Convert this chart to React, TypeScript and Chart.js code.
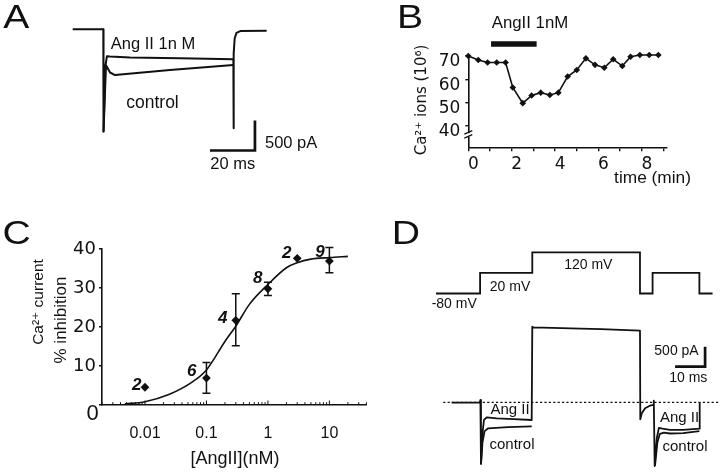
import React, { useEffect, useRef } from 'react';
import { Chart, registerables } from 'chart.js';

Chart.register(...registerables);

const INK = '#111111';
const SANS = '"Liberation Sans", Arial, Helvetica, "DejaVu Sans", sans-serif';
const WIDE = '"DejaVu Sans", "Liberation Sans", sans-serif';
const W = 720;
const H = 474;

// ---------- Panel A : Ca2+ current traces (ms, pA) ----------
const aTime = [0, 13.6, 13.7, 14.5, 15.2, 16.6, 25.5, 47.7, 71.4, 71.5, 71.6, 72.0, 72.8, 74.5, 86.2];
const aAngII = [0, 0, -1707, -620, -450, -455, -470, -483, -500, -1650, -400, -150, -60, -30, -24];
const aCtrlTime = [13.7, 14.8, 16.6, 18.8, 43.2, 71.4];
const aCtrl = [-1707, -600, -720, -762, -678, -595];
const aBarTime = [61, 81, 81];
const aBarCurrent = [-2020, -2020, -1520];

// ---------- Panel B : Ca2+ ions vs time ----------
const bTime = [0, 0.46, 0.89, 1.31, 1.72, 2.05, 2.51, 2.92, 3.34, 3.76, 4.15, 4.58, 5.0, 5.42, 5.84, 6.27, 6.68, 7.1, 7.48, 7.91, 8.34, 8.76];
const bIons = [70, 68.3, 67.2, 67.2, 67.2, 56.5, 49.8, 53.1, 54.3, 53.3, 54.3, 61.2, 64, 69, 66.2, 65, 68.6, 65.7, 69.7, 70.4, 70.4, 70.4];
const bDrugTime = [1.05, 3.15];
const bDrugLevel = 75.1;
const bYTicks = [40, 50, 60, 70];
const bXLabelled = [0, 2, 4, 6, 8];
const bBreakAt = 36.1;

// ---------- Panel C : dose-response ----------
const cConc = [0.01, 0.1, 0.3, 1, 3, 10];
const cInhib = [4.55, 6.9, 21.7, 29.8, 37.6, 36.9];
const cErrHigh: (number | null)[] = [null, 10.9, 28.5, 31.5, null, 40.4];
const cErrLow: (number | null)[] = [null, 3.0, 15.2, 28.1, null, 33.9];
const cN = ['2', '6', '4', '8', '2', '9'];
const cFitConc = [0.0047, 0.01, 0.025, 0.06, 0.1, 0.2, 0.3, 0.5, 1, 2, 3, 5, 10, 20];
const cFitInhib = [0.26, 0.85, 2.76, 6.0, 9.0, 16.3, 20.2, 25.8, 30.9, 35.2, 36.5, 37.4, 37.8, 38.1];
const cXLabelled = [0.01, 0.1, 1, 10];
const cYTicks = [0, 10, 20, 30, 40];

// ---------- Panel D : protocol and currents (ms, mV, pA) ----------
const dProtoTime = [0, 14.7, 14.7, 32.1, 32.1, 68, 68, 72.2, 72.2, 87.8, 87.8, 92.2];
const dProtoMv = [-80, -80, 20, 20, 120, 120, -80, -80, 20, 20, -80, -80];
const dAngTime = [5.2, 14.6, 14.8, 15.0, 15.6, 16.0, 16.9, 20.2, 26, 31.9, 32.1, 32.4, 45, 55, 68, 68.1, 68.6, 69.7, 71.3, 72.4, 72.6, 72.9, 73.6, 74.3, 75.5, 78, 82.4, 87.8, 87.9];
const dAngII = [-10, -10, 57, -1542, -700, -442, -375, -400, -420, -442, 1890, 1875, 1850, 1830, 1790, -425, -275, -150, -85, -67, 40, -1592, -900, -640, -660, -690, -690, -660, 0];
const dCtrlTime = [15.0, 15.5, 16.2, 17.4, 24, 31.9, 50, 73.0, 73.8, 74.6, 76, 78, 82.4, 87.8];
const dCtrl: (number | null)[] = [-1542, -1000, -720, -650, -620, -600, null, -1592, -1000, -790, -760, -780, -770, -720];
const dZeroTime = [2.4, 94.1];
const dZero = [0, 0];
const dBarTime = [79.7, 89.7, 89.7];
const dBarCurrent = [890, 890, 1390];

// ---------- text annotations ----------
type Label = {
  text: string; x: number; y: number; size: number; family?: string;
  align?: CanvasTextAlign; weight?: string; italic?: boolean; rotate?: number; sx?: number;
};

const aLabels: Label[] = [
  { text: 'A', x: 16.3, y: 18.5, size: 34, sx: 1.15 },
  { text: 'Ang II 1n M', x: 153, y: 44, size: 16.5 },
  { text: 'control', x: 152.5, y: 102.7, size: 17.5 },
  { text: '20 ms', x: 232.7, y: 164.3, size: 16.5 },
  { text: '500 pA', x: 265, y: 143.5, size: 16.5, align: 'left' },
];
const bLabels: Label[] = [
  { text: 'B', x: 410, y: 18.7, size: 34, sx: 1.15 },
  { text: 'AngII 1nM', x: 530, y: 23.5, size: 16.8 },
  { text: 'time (min)', x: 652.5, y: 178, size: 17.3 },
  { text: 'Ca\u00B2\u207A ions (10\u2076)', x: 422.5, y: 100, size: 15, family: WIDE, rotate: -Math.PI / 2 },
];
const cLabels: Label[] = [
  { text: 'C', x: 16.7, y: 234.2, size: 34, sx: 1.15 },
  { text: 'Ca\u00B2\u207A current', x: 38.5, y: 302, size: 15.5, rotate: -Math.PI / 2 },
  { text: '% inhibition', x: 61, y: 320, size: 17, rotate: -Math.PI / 2 },
  { text: '[AngII](nM)', x: 235, y: 459, size: 18 },
  { text: '0', x: 92.5, y: 414, size: 22 },
  { text: cN[0], x: 136.7, y: 385, size: 17, weight: 'bold', italic: true },
  { text: cN[1], x: 191.7, y: 371.7, size: 17, weight: 'bold', italic: true },
  { text: cN[2], x: 222.7, y: 318.3, size: 17, weight: 'bold', italic: true },
  { text: cN[3], x: 257.7, y: 278.3, size: 17, weight: 'bold', italic: true },
  { text: cN[4], x: 286.7, y: 253.3, size: 17, weight: 'bold', italic: true },
  { text: cN[5], x: 320, y: 252.7, size: 17, weight: 'bold', italic: true },
];
const dLabels: Label[] = [
  { text: 'D', x: 405.8, y: 235, size: 34, sx: 1.15 },
  { text: '-80 mV', x: 454.2, y: 304, size: 14 },
  { text: '20 mV', x: 510, y: 286.7, size: 14 },
  { text: '120 mV', x: 588.3, y: 264.7, size: 14 },
  { text: '500 pA', x: 676.5, y: 351, size: 14 },
  { text: '10 ms', x: 688.3, y: 378, size: 14 },
  { text: 'Ang II', x: 510, y: 410, size: 15 },
  { text: 'control', x: 512, y: 445.3, size: 15 },
  { text: 'Ang II', x: 679.5, y: 418, size: 15 },
  { text: 'control', x: 685, y: 446.7, size: 15 },
];

const pts = (xs: number[], ys: (number | null)[]) => xs.map((x, i) => ({ x, y: ys[i] }));

function drawLabels(ctx: CanvasRenderingContext2D, items: Label[]) {
  for (const it of items) {
    ctx.save();
    ctx.fillStyle = INK;
    ctx.font = `${it.italic ? 'italic ' : ''}${it.weight ?? 'normal'} ${it.size}px ${it.family ?? SANS}`;
    ctx.textAlign = it.align ?? 'center';
    ctx.textBaseline = 'middle';
    ctx.translate(it.x, it.y);
    if (it.rotate) ctx.rotate(it.rotate);
    if (it.sx) ctx.scale(it.sx, 1);
    ctx.fillText(it.text, 0, 0);
    ctx.restore();
  }
}

const labelPlugin = (id: string, items: Label[]) => ({
  id,
  afterDraw(chart: Chart) {
    drawLabels(chart.ctx, items);
  },
});

const trace = (data: any[], width: number, extra: any = {}) => ({
  data,
  borderColor: INK,
  backgroundColor: INK,
  borderWidth: width,
  pointRadius: 0,
  borderJoinStyle: 'round',
  borderCapStyle: 'butt',
  fill: false,
  ...extra,
});

const baseOptions = {
  responsive: false,
  animation: false as const,
  events: [] as any[],
  plugins: { legend: { display: false }, tooltip: { enabled: false } },
};

function makeA(canvas: HTMLCanvasElement) {
  return new Chart(canvas, {
    type: 'line',
    data: {
      datasets: [
        trace(pts(aTime, aAngII), 2),
        trace(pts(aCtrlTime, aCtrl), 2),
        trace(pts(aBarTime, aBarCurrent), 2.7, { borderJoinStyle: 'miter' }),
      ] as any,
    },
    options: {
      ...baseOptions,
      layout: { padding: 0 },
      scales: {
        x: { type: 'linear', display: false, min: -32.31, max: 287.69 },
        y: { type: 'linear', display: false, min: -7411.7, max: 488.3 },
      },
    } as any,
    plugins: [labelPlugin('aLabels', aLabels)],
  });
}

function makeB(canvas: HTMLCanvasElement) {
  const breakPlugin = {
    id: 'bBreak',
    afterDraw(chart: any) {
      const ctx = chart.ctx as CanvasRenderingContext2D;
      const x0 = chart.chartArea.left;
      const py = chart.scales.y.getPixelForValue(bBreakAt);
      ctx.save();
      ctx.fillStyle = '#ffffff';
      ctx.fillRect(x0 - 2, py - 2, 4, 3.5);
      ctx.strokeStyle = INK;
      ctx.lineWidth = 1.2;
      ctx.beginPath();
      ctx.moveTo(x0 - 4, py - 1);
      ctx.lineTo(x0 + 4, py - 4.5);
      ctx.moveTo(x0 - 4, py + 3);
      ctx.lineTo(x0 + 4, py - 0.5);
      ctx.stroke();
      ctx.restore();
    },
  };
  return new Chart(canvas, {
    type: 'line',
    data: {
      datasets: [
        trace(pts(bTime, bIons), 1.6, {
          pointRadius: 3.3,
          pointStyle: 'rectRot',
          pointBorderWidth: 0,
          pointBackgroundColor: INK,
          clip: false,
          borderJoinStyle: 'miter',
        }),
        trace(pts(bDrugTime, [bDrugLevel, bDrugLevel]), 5.5, { clip: false }),
      ] as any,
    },
    options: {
      ...baseOptions,
      layout: { padding: { left: 428.3, right: 53, top: 56, bottom: 286.7 } },
      scales: {
        x: {
          type: 'linear',
          min: 0,
          max: 9.16,
          afterFit: (s: any) => { s.height = 40; },
          border: { display: true, color: INK, width: 1.6 },
          grid: { display: true, drawOnChartArea: false, drawTicks: true, tickLength: 4, color: INK, lineWidth: 1.4 },
          ticks: {
            stepSize: 1,
            includeBounds: false,
            autoSkip: false,
            maxRotation: 0,
            padding: 3.5,
            labelOffset: 5,
            color: INK,
            font: { family: WIDE, size: 17 },
            callback: (v: any) => (bXLabelled.includes(Number(v)) ? String(v) : ''),
          },
        },
        y: {
          type: 'linear',
          min: 30.9,
          max: 70,
          afterFit: (s: any) => { s.width = 40; },
          afterBuildTicks: (s: any) => { s.ticks = bYTicks.map((value) => ({ value })); },
          border: { display: true, color: INK, width: 1.6 },
          grid: { display: true, drawOnChartArea: false, drawTicks: true, tickLength: 3, color: INK, lineWidth: 1.4 },
          ticks: {
            padding: 5,
            labelOffset: 6,
            color: INK,
            font: { family: WIDE, size: 17 },
            callback: (v: any) => String(v),
          },
        },
      },
    } as any,
    plugins: [breakPlugin, labelPlugin('bLabels', bLabels)],
  });
}

function makeC(canvas: HTMLCanvasElement) {
  const errPlugin = {
    id: 'cErr',
    afterDatasetsDraw(chart: any) {
      const ctx = chart.ctx as CanvasRenderingContext2D;
      const { x, y } = chart.scales;
      ctx.save();
      ctx.strokeStyle = INK;
      ctx.lineWidth = 1.5;
      ctx.beginPath();
      cConc.forEach((c, i) => {
        const hi = cErrHigh[i];
        const lo = cErrLow[i];
        if (hi == null || lo == null) return;
        const px = x.getPixelForValue(c);
        const pt = y.getPixelForValue(hi);
        const pb = y.getPixelForValue(lo);
        ctx.moveTo(px, pt);
        ctx.lineTo(px, pb);
        ctx.moveTo(px - 4, pt);
        ctx.lineTo(px + 4, pt);
        ctx.moveTo(px - 4, pb);
        ctx.lineTo(px + 4, pb);
      });
      ctx.stroke();
      // log-axis tick marks, drawn inward
      const bottom = chart.chartArea.bottom;
      ctx.lineWidth = 1;
      ctx.beginPath();
      for (let e = -3; e <= 2; e++) {
        for (let k = 1; k <= 9; k++) {
          const v = k * Math.pow(10, e);
          if (v < x.min || v > x.max) continue;
          const p = x.getPixelForValue(v);
          ctx.moveTo(p, bottom);
          ctx.lineTo(p, bottom - (k === 1 ? 4.5 : 2.8));
        }
      }
      ctx.stroke();
      ctx.restore();
    },
  };
  return new Chart(canvas, {
    type: 'line',
    data: {
      datasets: [
        trace(pts(cFitConc, cFitInhib), 1.6, { cubicInterpolationMode: 'monotone', clip: false }),
        trace(pts(cConc, cInhib), 0, {
          showLine: false,
          pointRadius: 4.4,
          pointStyle: 'rectRot',
          pointBorderWidth: 0,
          pointBackgroundColor: INK,
          clip: false,
        }),
      ] as any,
    },
    options: {
      ...baseOptions,
      layout: { padding: { left: 62, right: 353.6, top: 249, bottom: 29 } },
      scales: {
        x: {
          type: 'logarithmic',
          min: 0.002,
          max: 40,
          afterFit: (s: any) => { s.height = 40; },
          afterBuildTicks: (s: any) => { s.ticks = cXLabelled.map((value) => ({ value, major: true })); },
          border: { display: true, color: INK, width: 1.6 },
          grid: { display: false },
          ticks: {
            autoSkip: false,
            maxRotation: 0,
            padding: 11,
            color: INK,
            font: { family: SANS, size: 16 },
            callback: (v: any) => String(v),
          },
        },
        y: {
          type: 'linear',
          min: 0,
          max: 40,
          afterFit: (s: any) => { s.width = 40; },
          afterBuildTicks: (s: any) => { s.ticks = cYTicks.map((value) => ({ value })); },
          border: { display: true, color: INK, width: 1.6 },
          grid: { display: true, drawOnChartArea: false, drawTicks: true, tickLength: 3, color: INK, lineWidth: 1.4 },
          ticks: {
            padding: 3,
            color: INK,
            font: { family: WIDE, size: 18 },
            callback: (v: any) => (Number(v) === 0 ? '' : String(v)),
          },
        },
      },
    } as any,
    plugins: [errPlugin, labelPlugin('cLabels', cLabels)],
  });
}

function makeD(canvas: HTMLCanvasElement) {
  return new Chart(canvas, {
    type: 'line',
    data: {
      datasets: [
        trace(pts(dProtoTime, dProtoMv), 1.8, { yAxisID: 'yV', borderJoinStyle: 'miter' }),
        trace(pts(dZeroTime, dZero), 1.3, { borderDash: [2.2, 2.2] }),
        trace(pts(dAngTime, dAngII), 1.8),
        trace(pts(dCtrlTime, dCtrl), 1.8, { spanGaps: false }),
        trace(pts(dBarTime, dBarCurrent), 2.7, { borderJoinStyle: 'miter' }),
      ] as any,
    },
    options: {
      ...baseOptions,
      layout: { padding: 0 },
      scales: {
        x: { type: 'linear', display: false, min: -145.33, max: 94.67 },
        y: { type: 'linear', display: false, min: -1792.5, max: 10057.5 },
        yV: { type: 'linear', display: false, min: -956.2, max: 1344.8 },
      },
    } as any,
    plugins: [labelPlugin('dLabels', dLabels)],
  });
}

export default function App() {
  const refA = useRef<HTMLCanvasElement>(null);
  const refB = useRef<HTMLCanvasElement>(null);
  const refC = useRef<HTMLCanvasElement>(null);
  const refD = useRef<HTMLCanvasElement>(null);

  useEffect(() => {
    const charts = [
      makeA(refA.current!),
      makeB(refB.current!),
      makeC(refC.current!),
      makeD(refD.current!),
    ];
    return () => charts.forEach((c) => c.destroy());
  }, []);

  const cv: React.CSSProperties = { position: 'absolute', left: 0, top: 0, width: W, height: H };
  return (
    <div style={{ position: 'absolute', left: 0, top: 0, width: W, height: H, background: '#ffffff', overflow: 'hidden' }}>
      <canvas ref={refA} width={W} height={H} style={cv} />
      <canvas ref={refB} width={W} height={H} style={cv} />
      <canvas ref={refC} width={W} height={H} style={cv} />
      <canvas ref={refD} width={W} height={H} style={cv} />
    </div>
  );
}
